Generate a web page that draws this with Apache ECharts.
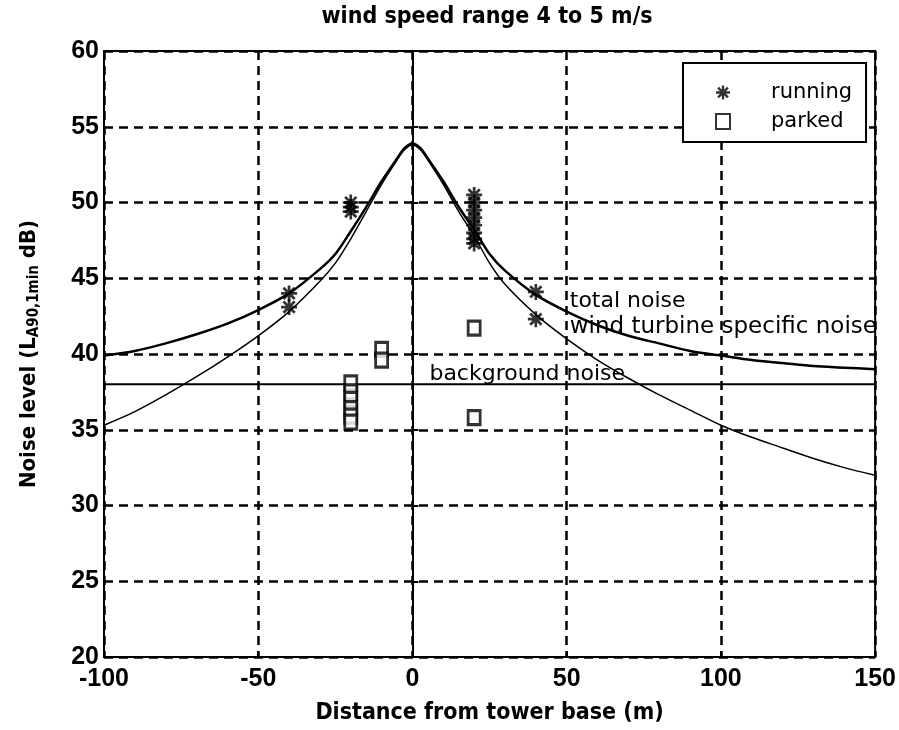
<!DOCTYPE html>
<html>
	<head>
		<meta charset="utf-8" />
		<title>wind speed range 4 to 5 m/s</title>
		<script type="text/javascript" src="https://cdn.jsdelivr.net/npm/echarts@6/dist/echarts.min.js"></script>
		<style>
			html, body { margin: 0; padding: 0; background: #fff; }
		</style>
	</head>
	<body>
		<div id="main" style="width: 899px;height:730px;"></div>
		<script type="text/javascript">
		// distance from tower base (m) and the two calculated curves (dB)
		var distance = [-100, -90, -80, -70, -60, -50, -40, -30, -25, -20, -15, -10, -5, -2.5, 0, 2.5, 5, 10, 15, 20, 25, 30, 40, 50, 60, 70, 80, 90, 100, 110, 120, 130, 140, 150];
		var totalNoise = [39.9, 40.2, 40.7, 41.3, 42.0, 42.9, 44.0, 45.6, 46.6, 48.1, 49.7, 51.4, 52.9, 53.6, 53.9, 53.6, 52.9, 51.4, 49.7, 48.2, 46.6, 45.5, 43.9, 42.8, 41.9, 41.2, 40.7, 40.2, 39.9, 39.6, 39.4, 39.2, 39.1, 39.0];
		var turbineNoise = [35.3, 36.2, 37.3, 38.5, 39.8, 41.2, 42.8, 44.8, 46.0, 47.6, 49.4, 51.2, 52.8, 53.5, 53.8, 53.5, 52.8, 51.2, 49.4, 47.8, 46.0, 44.6, 42.6, 41.0, 39.6, 38.4, 37.3, 36.3, 35.3, 34.5, 33.8, 33.1, 32.5, 32.0];
		var backgroundLevel = 38;

		// measurements
		var runningX = [-40, -40, -20, -20, -20, 20, 20, 20, 20, 20, 20, 20, 20, 40, 40];
		var runningY = [44.0, 43.1, 50.0, 49.7, 49.4, 50.5, 50.0, 49.5, 49.0, 48.5, 48.0, 47.6, 47.3, 44.1, 42.3];
		var parkedX = [-20, -20, -20, -20, -20, -20, -10, -10, 20, 20];
		var parkedY = [38.1, 37.5, 37.0, 36.4, 35.9, 35.5, 40.3, 39.6, 41.7, 35.8];

		var xTicks = [-100, 150, 50];
		var yTicks = [20, 60, 5];

		var starIcon = 'path://M-1.7,-10L1.7,-10L1.7,10L-1.7,10Z M-10,-1.7L10,-1.7L10,1.7L-10,1.7Z M-5.87,-8.27L8.27,5.87L5.87,8.27L-8.27,-5.87Z M-8.27,5.87L5.87,-8.27L8.27,-5.87L-5.87,8.27Z';

		function pairs(xs, ys){
			var out = [];
			for (var i = 0; i < xs.length; i++) {
				out.push([xs[i], ys[i]]);
			}
			return out;
		}

		var boldFont = '"DejaVu Sans Condensed", "Liberation Sans", sans-serif';
		var plainFont = 'DejaVu Sans';

		var option = {
			animation: false,
			backgroundColor: '#fff',
			graphic: [{
				type: 'text',
				x: 487,
				y: 6,
				style: {
					text: 'wind speed range 4 to 5 m/s',
					fill: '#000',
					font: 'bold 23px "DejaVu Sans Condensed", "Liberation Sans", sans-serif',
					textAlign: 'center'
				}
			}],
			legend: {
				orient: 'vertical',
				left: 683,
				top: 63,
				padding: [19, 14, 10, 32],
				itemGap: 8,
				itemWidth: 14,
				itemHeight: 15,
				borderColor: '#000',
				borderWidth: 2,
				backgroundColor: '#fff',
				textStyle: {
					fontFamily: plainFont,
					fontSize: 21,
					color: '#000',
					padding: [0, 0, 0, 36]
				},
				data: [
					{ name: 'running', icon: starIcon },
					{ name: 'parked', icon: 'rect' }
				]
			},
			grid: {
				left: 104,
				right: 19,
				top: 51,
				bottom: 68,
				show: true,
				borderColor: '#000',
				borderWidth: 2,
				containLabel: false
			},
			xAxis: {
				type: 'value',
				min: xTicks[0],
				max: xTicks[1],
				interval: xTicks[2],
				name: 'Distance from tower base (m)',
				nameLocation: 'middle',
				nameGap: 45,
				nameTextStyle: { fontFamily: boldFont, fontWeight: 'bold', fontSize: 23, color: '#000' },
				axisLine: { show: true, lineStyle: { color: '#000', width: 2 } },
				axisTick: { show: true, inside: true, length: 6, lineStyle: { color: '#000', width: 2 } },
				axisLabel: { fontFamily: 'Liberation Sans', fontWeight: 'bold', fontSize: 25, color: '#000', margin: 10 },
				splitLine: { show: true, lineStyle: { color: '#000', width: 2.5, type: [9, 6] } }
			},
			yAxis: {
				type: 'value',
				min: yTicks[0],
				max: yTicks[1],
				interval: yTicks[2],
				name: 'Noise level (L{sub|A90,1min} dB)',
				nameLocation: 'middle',
				nameGap: 62,
				nameTextStyle: {
					fontFamily: boldFont, fontWeight: 'bold', fontSize: 22, color: '#000',
					rich: {
						sub: { fontFamily: boldFont, fontWeight: 'bold', fontSize: 15, color: '#000', verticalAlign: 'bottom', padding: [10, 0, 0, 0] }
					}
				},
				axisLine: { show: true, lineStyle: { color: '#000', width: 2 } },
				axisTick: { show: true, inside: true, length: 6, lineStyle: { color: '#000', width: 2 } },
				axisLabel: { fontFamily: 'Liberation Sans', fontWeight: 'bold', fontSize: 25, color: '#000', margin: 5 },
				splitLine: { show: true, lineStyle: { color: '#000', width: 2.5, type: [9, 6] } }
			},
			series: [
				{
					name: 'total noise',
					type: 'line',
					data: pairs(distance, totalNoise),
					symbol: 'none',
					smooth: 0.3,
					lineStyle: { color: '#000', width: 2.5 },
					z: 3,
					markPoint: {
						symbol: 'circle',
						symbolSize: 0,
						label: { show: true, position: 'right', distance: 0, formatter: '{b}', fontFamily: plainFont, fontSize: 22, color: '#000' },
						data: [
							{ name: 'total noise', coord: [51, 43.5] },
							{ name: 'wind turbine specific noise', coord: [51, 41.75], label: { fontSize: 23 } }
						]
					}
				},
				{
					name: 'wind turbine specific noise',
					type: 'line',
					data: pairs(distance, turbineNoise),
					symbol: 'none',
					smooth: 0.3,
					lineStyle: { color: '#000', width: 1.5 },
					z: 3
				},
				{
					name: 'background noise',
					type: 'line',
					data: [[xTicks[0], backgroundLevel], [xTicks[1], backgroundLevel]],
					symbol: 'none',
					lineStyle: { color: '#000', width: 2 },
					z: 3,
					markPoint: {
						symbol: 'circle',
						symbolSize: 0,
						label: { show: true, position: 'right', distance: 0, formatter: '{b}', fontFamily: plainFont, fontSize: 22, color: '#000' },
						data: [
							{ name: 'background noise', coord: [5.5, 38.65] }
						]
					}
				},
				{
					name: 'running',
					type: 'scatter',
					data: pairs(runningX, runningY),
					symbol: starIcon,
					symbolSize: 16,
					itemStyle: { color: '#000' },
					z: 4
				},
				{
					name: 'parked',
					type: 'scatter',
					data: pairs(parkedX, parkedY),
					symbol: 'rect',
					symbolSize: [12, 14],
					itemStyle: { color: '#fff', borderColor: '#000', borderWidth: 3 },
					z: 4
				}
			]
		};

		var myChart = echarts.init(document.getElementById('main'));
		myChart.setOption(option);
		</script>
	</body>
</html>
